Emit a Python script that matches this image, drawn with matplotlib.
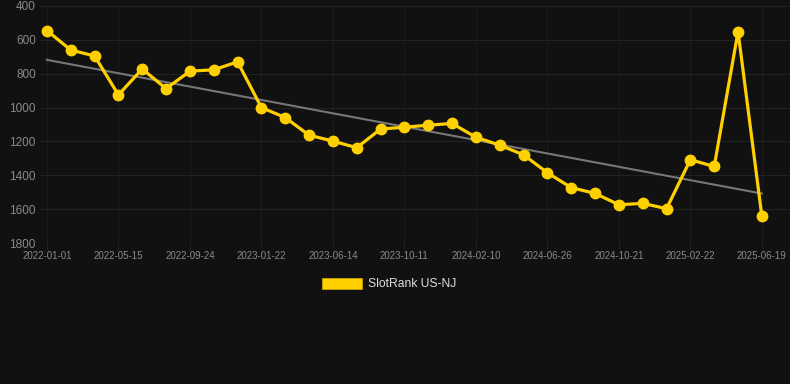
import matplotlib.pyplot as plt
import matplotlib.patches as mpatches
import numpy as np

plt.rcParams['font.family'] = ['Liberation Sans', 'DejaVu Sans']

# 排名数据（数值越小越好，y 轴反向）
rank_values = [545, 660, 695, 925, 772, 888, 785, 777, 730, 1000, 1059,
               1163, 1198, 1237, 1127, 1116, 1104, 1094, 1175, 1222, 1279,
               1385, 1473, 1507, 1574, 1566, 1597, 1308, 1348, 551, 1643]
tick_labels = ['2022-01-01', '2022-05-15', '2022-09-24', '2023-01-22',
               '2023-06-14', '2023-10-11', '2024-02-10', '2024-06-26',
               '2024-10-21', '2025-02-22', '2025-06-19']
y_ticks = [400, 600, 800, 1000, 1200, 1400, 1600, 1800]

bg = '#111111'
gold = '#ffd000'

fig = plt.figure(figsize=(7.9, 3.84), dpi=100, facecolor=bg)
ax = fig.add_axes([40 / 790, 141 / 384, 750 / 790, 237 / 384], facecolor=bg)

x = np.arange(len(rank_values))

# 趋势线（线性拟合）
k, b = np.polyfit(x, rank_values, 1)
ax.plot(x, k * x + b, color='#777777', lw=1.5, zorder=2)

ax.plot(x, rank_values, color=gold, lw=2.3, marker='o', ms=7.5, zorder=3)

ax.set_ylim(1800, 400)
ax.set_xlim(-0.29, 31.18)
ax.set_yticks(y_ticks)
ax.set_xticks(x[::3])
ax.set_xticklabels(tick_labels)

ax.grid(True, axis='y', color='#222222', lw=0.75)
ax.grid(True, axis='x', color='#1c1c1c', lw=0.75)
for s in ax.spines.values():
    s.set_visible(False)
ax.tick_params(axis='y', length=0, pad=3, labelsize=8.5, labelcolor='#8a8a8a')
ax.tick_params(axis='x', length=4, color='#222222', pad=2, labelsize=7, labelcolor='#8a8a8a')

handle = mpatches.Patch(facecolor=gold, edgecolor='#c9a400', lw=0.6, label='SlotRank US-NJ')
fig.legend(handles=[handle], loc='center', bbox_to_anchor=(389.5 / 790, 1 - 284 / 384),
           frameon=False, handlelength=3.3, handleheight=1.0, handletextpad=0.5,
           labelcolor='#dddddd', fontsize=8.7)

fig.savefig('out.png', dpi=100, facecolor=bg)
